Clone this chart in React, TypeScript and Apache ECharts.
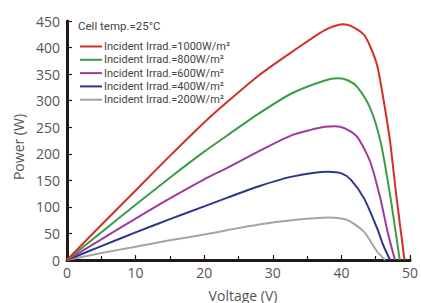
import React, { useEffect, useRef } from "react";
import * as echarts from "echarts";

const seriesNames = [
  "Incident Irrad.=1000W/m²",
  "Incident Irrad.=800W/m²",
  "Incident Irrad.=600W/m²",
  "Incident Irrad.=400W/m²",
  "Incident Irrad.=200W/m²",
];
const seriesColors = ["#d42f27", "#3a9e48", "#a0399c", "#2d3590", "#a3a3a3"];

const v1000 = [0, 5, 10, 15, 20, 23.3, 28, 32.8, 37.6, 40.2, 41.5, 43.3, 44.2, 45.2, 46.1, 47.1, 48.0, 49.2];
const p1000 = [0, 66, 131, 196, 259, 297, 348, 392, 433, 444, 440, 424, 402, 367, 305, 223, 122, 0];

const v800 = [0, 5, 10, 15, 20, 23.3, 28, 32.8, 37.6, 39.5, 41, 42.3, 44.2, 45.7, 47.1, 48.5];
const p800 = [0, 52, 104, 155, 204, 234, 276, 314, 338, 342, 338, 326, 286, 223, 122, 0];

const v600 = [0, 5, 10, 15, 20, 23.3, 28, 32.8, 35.5, 37.6, 39.0, 40.5, 42.3, 44.2, 45.7, 46.7, 47.8];
const p600 = [0, 39, 78, 116, 152, 173, 205, 235, 245, 251, 252, 248, 232, 185, 115, 55, 0];

const v400 = [0, 5, 10, 15, 20, 23.3, 28, 32.8, 38.1, 40, 41.4, 43.3, 45.2, 46.1, 47.1];
const p400 = [0, 26, 52, 77, 101, 117, 139, 157, 166, 163, 151, 116, 60, 28, 0];

const v200 = [0, 5, 10, 15, 20, 23.3, 28, 32.8, 38.1, 40.9, 43.3, 45.2, 46.4];
const p200 = [0, 13, 25, 37, 48, 56, 67, 75, 80, 75, 53, 16, 0];

const voltages = [v1000, v800, v600, v400, v200];
const powers = [p1000, p800, p600, p400, p200];

const yTicks = { min: 0, max: 450, interval: 50 };
const xTicks = { min: 0, max: 50, interval: 10 };

const axisColor = "#231815";
const labelColor = "#555555";

export default function App() {
  const ref = useRef<HTMLDivElement>(null);
  useEffect(() => {
    if (!ref.current) return;
    const chart = echarts.init(ref.current, null, { renderer: "svg" });
    const series = seriesNames.map((name, i) => ({
      name,
      type: "line",
      data: voltages[i].map((v, j) => [v, powers[i][j]]),
      symbol: "none",
      showSymbol: false,
      smooth: 0.25,
      lineStyle: { color: seriesColors[i], width: 2 },
      itemStyle: { color: seriesColors[i] },
      z: 5 - i,
    }));
    chart.setOption({
      animation: false,
      grid: { left: 67, right: 4, top: 21, bottom: 43, containLabel: false },
      xAxis: {
        type: "value",
        min: xTicks.min,
        max: xTicks.max,
        interval: xTicks.interval,
        axisLine: { show: true, lineStyle: { color: axisColor, width: 3 } },
        axisTick: { show: true, inside: true, length: 5, lineStyle: { color: axisColor, width: 1.2 } },
        minorTick: { show: true, splitNumber: 2, length: 4, lineStyle: { color: axisColor, width: 1.2 } },
        splitLine: { show: false },
        axisLabel: { color: labelColor, fontSize: 14, margin: 5, fontFamily: "Open Sans" },
      },
      yAxis: {
        type: "value",
        min: yTicks.min,
        max: yTicks.max,
        interval: yTicks.interval,
        axisLine: { show: true, lineStyle: { color: axisColor, width: 3 } },
        axisTick: { show: true, inside: true, length: 5, lineStyle: { color: axisColor, width: 1.2 } },
        splitLine: { show: false },
        axisLabel: { color: labelColor, fontSize: 14, margin: 7, fontFamily: "Open Sans" },
      },
      legend: {
        show: true,
        orient: "vertical",
        left: 80,
        top: 40,
        padding: 0,
        icon: "rect",
        itemWidth: 22,
        itemHeight: 2,
        itemGap: 0.3,
        textStyle: { fontSize: 11, color: "#444", fontFamily: "Roboto", lineHeight: 13, padding: [0, 0, 0, -3] },
        data: seriesNames,
      },
      graphic: [
        {
          type: "text",
          left: 78,
          top: 20,
          style: { text: "Cell temp.=25°C", fontSize: 11.5, fill: "#444", fontFamily: "Roboto" },
        },
        {
          type: "text",
          x: 18,
          y: 147,
          rotation: Math.PI / 2,
          style: {
            text: "Power (W)",
            fontSize: 14,
            fill: labelColor,
            fontFamily: "Open Sans",
            align: "center",
            verticalAlign: "middle",
          },
        },
        {
          type: "text",
          x: 243,
          y: 295,
          style: {
            text: "Voltage (V)",
            fontSize: 14,
            fill: labelColor,
            fontFamily: "Open Sans",
            align: "center",
            verticalAlign: "middle",
          },
        },
      ],
      series,
    });
    return () => chart.dispose();
  }, []);
  return (
    <div
      ref={ref}
      style={{ position: "fixed", left: 0, top: 0, width: 421, height: 303, background: "#fff" }}
    />
  );
}
